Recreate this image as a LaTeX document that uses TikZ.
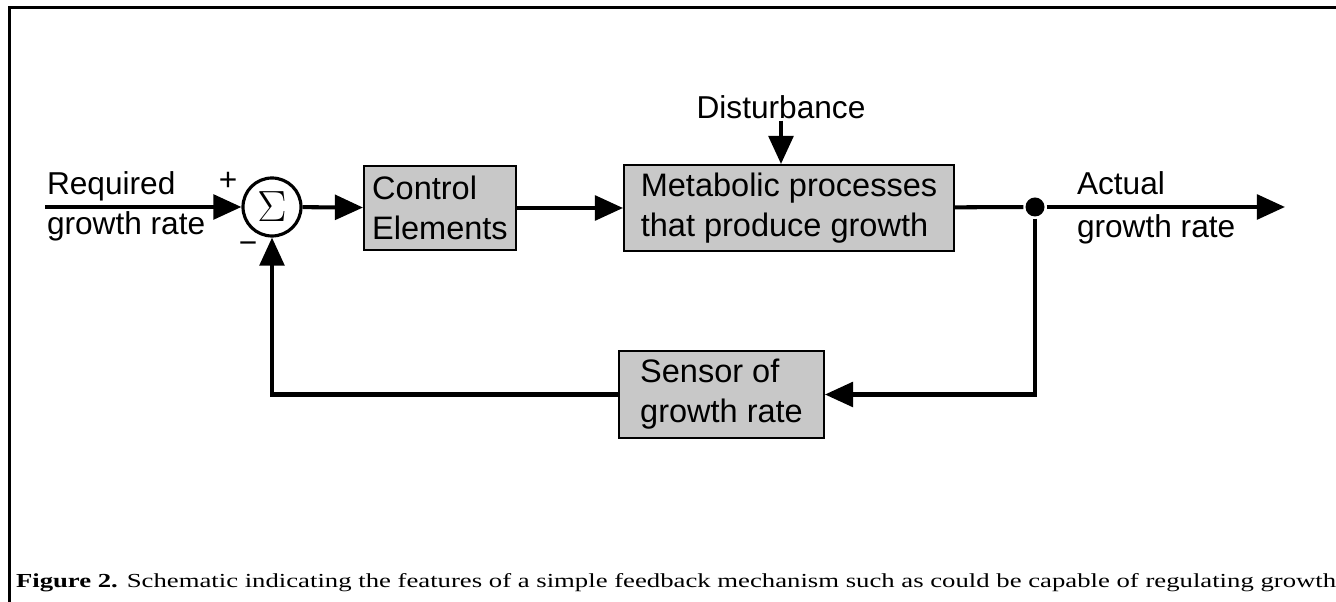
\documentclass[tikz,border=0pt]{standalone}
\usepackage{fontspec}
\setmainfont{Liberation Sans}
\newfontfamily\capfont{Liberation Serif}
\usetikzlibrary{positioning,arrows.meta}
\definecolor{boxgray}{RGB}{200,200,200}
\tikzset{
  every node/.style={minimum size=0pt, inner sep=1pt},
  sig/.style={-{Triangle[length=16pt,width=14pt]}, line width=2.3pt}
}

\begin{document}
\begin{tikzpicture}[line width=2.3pt]
\tikzstyle{bStyle}=[shape = rectangle, draw, line width=1.1pt, fill=boxgray,
align=left, font=\fontsize{18.5}{22.7}\selectfont]
\tikzstyle{sStyle}=[shape = circle, minimum size = 1.16cm, inner sep = 0pt,
draw, fill=white, line width=1.8pt, font=\fontsize{25}{25}\selectfont]
\tikzstyle{lStyle}=[font=\fontsize{18}{22}\selectfont, inner sep=0pt]
\tikzstyle{dStyle}=[shape = circle, minimum size = 0.38cm, inner sep = 0pt,
draw=none, fill=black]

\useasboundingbox (0,0) rectangle (26.72,12.04);
\draw[line width=1.7pt] (26.72,11.89) -- (0.19,11.89) -- (0.19,0);

\draw (5.44,7.9) node[sStyle] (sum) {$\Sigma$};
\draw (8.8,7.88) node[bStyle, minimum width=3.04cm, minimum height=1.68cm] (ctrl) {Control\\Elements};
\draw (15.78,7.88) node[bStyle, minimum width=6.6cm, minimum height=1.72cm] (met) {Metabolic processes\\that produce growth};
\draw (14.43,4.15) node[bStyle, minimum width=4.1cm, minimum height=1.74cm] (sens) {Sensor of\\growth rate};
\draw (20.7,7.9) node[dStyle] (dot) {};
\draw (15.62,9.9) node[lStyle] (dist) {Disturbance};

\coordinate (in) at (0.9,7.9);
\coordinate (out) at (25.7,7.9);

\draw (0.9,8.14) node[lStyle, anchor=base west] (req) {Required};
\draw (0.9,7.34) node[lStyle, anchor=base west] (reqb) {growth rate};
\draw (21.5,8.14) node[lStyle, anchor=base west] (act) {Actual};
\draw (21.5,7.28) node[lStyle, anchor=base west] (actb) {growth rate};
\draw (4.56,8.42) node[lStyle] (plus) {+};
\draw (4.96,7.08) node[lStyle] (minus) {−};

\draw[sig] (in) -- (sum);
\draw[sig] (sum) -- (ctrl);
\draw[sig] (ctrl) -- (met);
\draw[sig] (dist.south) -- (dist.south |- met.north);
\draw (met) -- (dot);
\draw[sig] (dot) -- (out);
\draw[sig] (dot) |- (sens.east);
\draw[sig] (sens.west) -| (sum.south);

\draw (0.28,0.28) node[anchor=base west, inner sep=0pt] (cap) {\resizebox{26.4cm}{0.28cm}{\capfont\textbf{Figure 2.} Schematic indicating the features of a simple feedback mechanism such as could be capable of regulating growth}};
\end{tikzpicture}
\end{document}
